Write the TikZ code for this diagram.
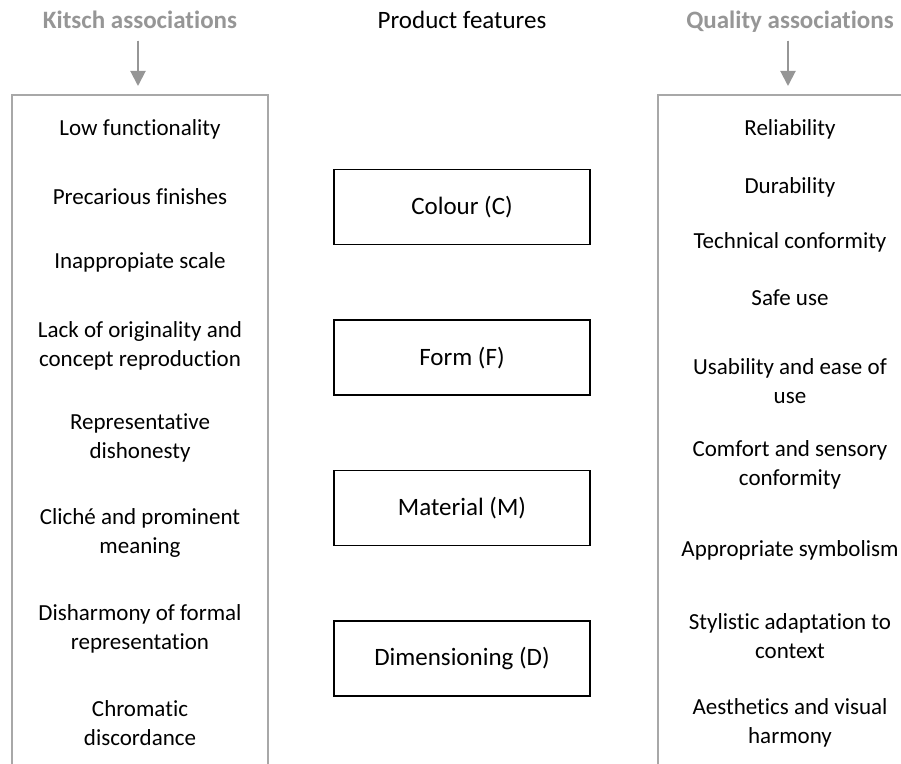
\documentclass[tikz,border=0pt]{standalone}
\usepackage{fontspec}
\setmainfont{Carlito}[Ligatures={NoCommon}]
\usepackage{tikz}
\usetikzlibrary{arrows.meta,positioning}
\usepackage{xcolor}
\definecolor{headgrey}{RGB}{150,150,150}
\definecolor{framegrey}{RGB}{168,168,168}

\begin{document}
\begin{tikzpicture}[x=0.5pt,y=-0.5pt,>=Triangle,node distance=37pt,
  head/.style={anchor=base,text height=9pt,text depth=0pt,font=\fontsize{12.5}{15}\selectfont\bfseries,text=headgrey},
  feat/.style={draw=black,line width=.8pt,minimum width=128pt,minimum height=37.5pt,font=\fontsize{12.5}{15}\selectfont},
  item/.style={align=center,font=\fontsize{11.5}{14.5}\selectfont},
  frame/.style={draw=framegrey,line width=1pt},
  garr/.style={-{Triangle[length=7.5pt,width=7.5pt]},draw=headgrey,fill=headgrey,line width=1pt,shorten <=2.3pt}]
\useasboundingbox (0,0) rectangle (901,764);
% headings
\node[head] (kit) at (140,29) {Kitsch associations};
\node[head,text=black,font=\fontsize{12.5}{15}\selectfont] (prod) at (462,29) {Product features};
\node[head] (qua) at (790,29) {Quality associations};
\coordinate (kitin) at (138,86);
\coordinate (quain) at (788,86);
\draw[garr] (kit.south -| kitin) -- (kitin);
\draw[garr] (qua.south -| quain) -- (quain);
% open frames
\draw[frame] (12,770) -- (12,95) -- (268,95) -- (268,770);
\draw[frame] (658,770) -- (658,95) -- (910,95);
% product features
\node[feat] (col) at (462,207) {Colour (C)};
\node[feat, below=of col] (frm) {Form (F)};
\node[feat, below=of frm] (mat) {Material (M)};
\node[feat, below=of mat] (dim) {Dimensioning (D)};
% kitsch associations
\node[item] (k1) at (140,129) {Low functionality};
\node[item] (k2) at (140,197) {Precarious finishes};
\node[item] (k3) at (140,262) {Inappropiate scale};
\node[item] (k4) at (140,346) {Lack of originality and\\concept reproduction};
\node[item] (k5) at (140,438) {Representative\\dishonesty};
\node[item] (k6) at (140,533) {Cliché and prominent\\meaning};
\node[item] (k7) at (140,629) {Disharmony of formal\\representation};
\node[item] (k8) at (140,723) {Chromatic\\discordance};
% quality associations
\node[item] (q1) at (790,129) {Reliability};
\node[item] (q2) at (790,187) {Durability};
\node[item] (q3) at (790,242) {Technical conformity};
\node[item] (q4) at (790,298) {Safe use};
\node[item] (q5) at (790,381) {Usability and ease of\\use};
\node[item] (q6) at (790,465) {Comfort and sensory\\conformity};
\node[item] (q7) at (790,550) {Appropriate symbolism};
\node[item] (q8) at (790,636) {Stylistic adaptation to\\context};
\node[item] (q9) at (790,723) {Aesthetics and visual\\harmony};
\end{tikzpicture}
\end{document}
